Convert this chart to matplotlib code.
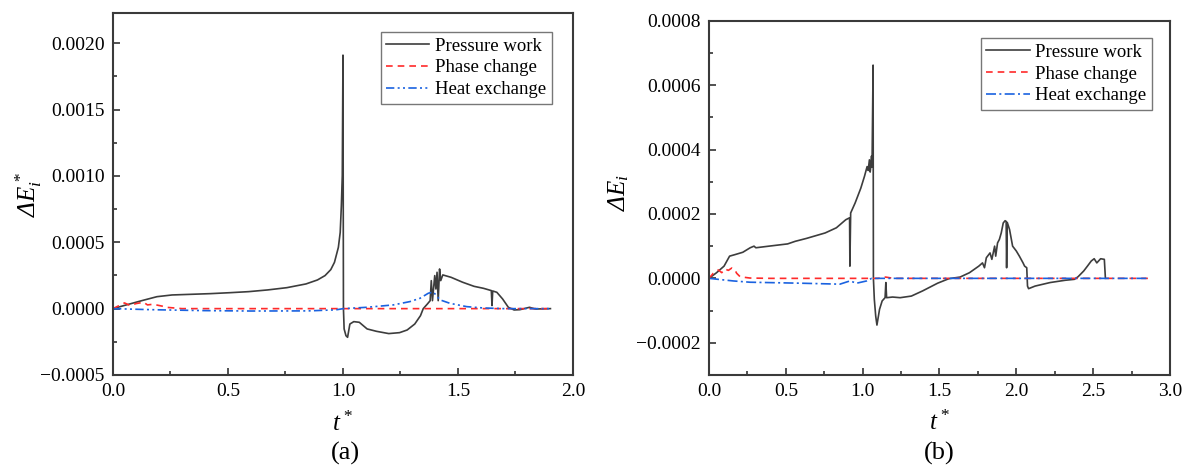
import matplotlib
matplotlib.use("Agg")
import matplotlib.pyplot as plt
from matplotlib.ticker import MultipleLocator, FuncFormatter

plt.rcParams["font.family"] = ["Liberation Serif", "DejaVu Serif"]
plt.rcParams["mathtext.fontset"] = "custom"
plt.rcParams["mathtext.rm"] = "Liberation Serif:italic"
plt.rcParams["mathtext.it"] = "Liberation Serif:italic"

# ---- (a) ----
t_pw_a = [0.0, 0.058, 0.125, 0.191, 0.257, 0.341, 0.424, 0.507, 0.590, 0.673,
          0.756, 0.839, 0.889, 0.922, 0.947, 0.963, 0.980, 0.988, 0.993, 0.997,
          1.000, 1.002, 1.005, 1.013, 1.020, 1.030, 1.047, 1.071, 1.105, 1.146,
          1.199, 1.246, 1.279, 1.312, 1.337, 1.349, 1.367, 1.379, 1.384, 1.389,
          1.399, 1.404, 1.409, 1.414, 1.420, 1.425, 1.434, 1.470, 1.520, 1.570,
          1.611, 1.645, 1.648, 1.651, 1.669, 1.694, 1.719, 1.744, 1.769, 1.811,
          1.836, 1.902]
pw_a = [0.0, 0.000028, 0.00006, 0.00009, 0.000103, 0.000108, 0.000113, 0.00012,
        0.000128, 0.000141, 0.000158, 0.000186, 0.000216, 0.000249, 0.000294,
        0.000349, 0.000462, 0.000575, 0.000776, 0.001003, 0.00191, 0.0,
        -0.000153, -0.000204, -0.000216, -0.000116, -0.000098, -0.000103,
        -0.000153, -0.000171, -0.000188, -0.000181, -0.000161, -0.000116,
        -0.000053, 0.0, 0.000035, 0.00006, 0.000211, 0.00006, 0.000249,
        0.000148, 0.000274, 0.00006, 0.000299, 0.000211, 0.000254, 0.000236,
        0.000199, 0.000168, 0.000153, 0.000136, 0.000023, 0.000133, 0.000123,
        0.000073, 0.00001, -0.00001, -0.000008, 0.00001, -0.000003, 0.0]

t_pc_a = [0.0, 0.050, 0.075, 0.100, 0.133, 0.150, 0.174, 0.216, 0.232, 0.30, 1.902]
pc_a = [0.0, 0.000043, 0.000023, 0.000038, 0.000048, 0.000028, 0.000033,
        0.000018, 0.00001, 0.0, 0.0]

t_he_a = [0.0, 0.17, 0.40, 0.60, 0.85, 0.97, 1.001, 1.103, 1.219, 1.291, 1.335,
          1.371, 1.393, 1.422, 1.465, 1.538, 1.61, 1.70, 1.902]
he_a = [0.0, -0.000008, -0.000015, -0.000018, -0.000017, -0.000009, 0.0,
        0.00001, 0.000028, 0.000053, 0.000078, 0.000116, 0.000125, 0.000066,
        0.00004, 0.000015, 0.000005, 0.0, 0.0]

# ---- (b) ----
t_pw_b = [0.0, 0.049, 0.098, 0.134, 0.171, 0.220, 0.268, 0.293, 0.305, 0.39,
          0.512, 0.561, 0.634, 0.756, 0.829, 0.890, 0.915, 0.917, 0.922, 0.951,
          0.988, 1.012, 1.029, 1.036, 1.044, 1.049, 1.054, 1.058, 1.061, 1.068,
          1.070, 1.076, 1.085, 1.093, 1.110, 1.127, 1.146, 1.151, 1.156, 1.195,
          1.244, 1.317, 1.390, 1.488, 1.561, 1.634, 1.695, 1.756, 1.780, 1.793,
          1.805, 1.829, 1.841, 1.859, 1.866, 1.878, 1.890, 1.902, 1.915, 1.927,
          1.934, 1.937, 1.941, 1.956, 1.976, 2.000, 2.020, 2.044, 2.054, 2.068,
          2.073, 2.080, 2.122, 2.220, 2.317, 2.378, 2.402, 2.439, 2.463, 2.488,
          2.507, 2.524, 2.549, 2.573, 2.580]
pw_b = [0.0, 0.0000175, 0.000038, 0.000069, 0.000074, 0.000081, 0.000095, 0.0001,
        0.000095, 0.0001, 0.000107, 0.000115, 0.000124, 0.000141, 0.000157,
        0.000182, 0.000188, 0.000038, 0.000203, 0.000234, 0.00028, 0.000317,
        0.000347, 0.000335, 0.000368, 0.00033, 0.000353, 0.00038, 0.000345,
        0.000662, 0.0, -0.000065, -0.000117, -0.000145, -0.000096, -0.00007,
        -0.00006, -0.000013, -0.00006, -0.000058, -0.00006, -0.000055,
        -0.000039, -0.000015, -0.000001, 0.000004, 0.0000175, 0.000038,
        0.000048, 0.000033, 0.000064, 0.000079, 0.000059, 0.0001, 0.000069,
        0.00011, 0.000121, 0.000141, 0.000172, 0.000179, 0.000177, 0.000033,
        0.000174, 0.000152, 0.0001, 0.000085, 0.000069, 0.000048, 0.000038,
        0.000033, -0.000024, -0.000032, -0.000024, -0.000013, -0.000006,
        -0.000003, 0.000005, 0.000023, 0.000038, 0.000054, 0.000061, 0.000048,
        0.000061, 0.000059, 0.0]

t_pc_b = [0.0, 0.028, 0.061, 0.083, 0.104, 0.126, 0.148, 0.169, 0.180, 0.202,
          0.234, 0.267, 0.40, 1.10, 1.15, 1.20, 2.866]
pc_b = [0.0, 0.0000158, 0.000026, 0.0000177, 0.000029, 0.0000248, 0.000032,
        0.000026, 0.0000158, 0.0000053, 0.000003, 0.000001, 0.0, 0.0,
        0.000004, 0.0, 0.0]

t_he_b = [0.0, 0.158, 0.267, 0.592, 0.852, 0.917, 0.961, 1.026, 1.058, 2.866]
he_b = [0.0, -0.000008, -0.000012, -0.000015, -0.000018, -0.000008, -0.000015,
        -0.000008, 0.0, 0.0]

labels = ["Pressure work", "Phase change", "Heat exchange"]

black = "#3d3d3d"
red = "#ff2a2a"
blue = "#1a62e0"


def fmt(decimals):
    # proper minus sign for negative tick values
    return FuncFormatter(lambda v, pos: f"{v:.{decimals}f}".replace("-", "\u2212"))


fig = plt.figure(figsize=(11.88, 4.66), dpi=100)
ax1 = fig.add_axes([0.0951, 0.1953, 0.3872, 0.7775])
ax2 = fig.add_axes([0.5968, 0.1953, 0.3880, 0.7603])

ax1.plot(t_pw_a, pw_a, color=black, lw=1.2, label=labels[0])
ax1.plot(t_pc_a, pc_a, color=red, lw=1.2, ls=(0, (4, 3)), label=labels[1])
ax1.plot(t_he_a, he_a, color=blue, lw=1.2, ls=(0, (5, 2, 1.2, 2, 1.2, 2)), label=labels[2])

ax2.plot(t_pw_b, pw_b, color=black, lw=1.2, label=labels[0])
ax2.plot(t_pc_b, pc_b, color=red, lw=1.2, ls=(0, (4, 3)), label=labels[1])
ax2.plot(t_he_b, he_b, color=blue, lw=1.2, ls=(0, (6, 2, 1.2, 2)), label=labels[2])

ax1.set_xlim(0, 2.0)
ax1.set_ylim(-0.0005, 0.00223)
ax1.xaxis.set_major_locator(MultipleLocator(0.5))
ax1.xaxis.set_minor_locator(MultipleLocator(0.25))
ax1.yaxis.set_major_locator(MultipleLocator(0.0005))
ax1.yaxis.set_minor_locator(MultipleLocator(0.00025))

ax2.set_xlim(0, 3.0)
ax2.set_ylim(-0.0003, 0.0008)
ax2.xaxis.set_major_locator(MultipleLocator(0.5))
ax2.xaxis.set_minor_locator(MultipleLocator(0.25))
ax2.yaxis.set_major_locator(MultipleLocator(0.0002))
ax2.yaxis.set_minor_locator(MultipleLocator(0.0001))

for ax in (ax1, ax2):
    ax.xaxis.set_major_formatter(fmt(1))
    ax.yaxis.set_major_formatter(fmt(4))
    ax.tick_params(which="both", direction="in", top=False, right=False,
                   width=1.2, colors="#333333", labelcolor="black", labelsize=14)
    ax.tick_params(which="major", length=5, pad=6)
    ax.tick_params(which="minor", length=3)
    for sp in ax.spines.values():
        sp.set_linewidth(1.5)
        sp.set_color("#3a3a3a")
    leg = ax.legend(loc="upper right", fontsize=13.5, frameon=True, fancybox=False,
                    edgecolor="#555555", handlelength=2.3, handletextpad=0.3,
                    labelspacing=0.25, borderpad=0.3, borderaxespad=0)
    leg.get_frame().set_linewidth(1.0)
    ax.text(0.5, -0.135, "$t^*$", transform=ax.transAxes, ha="center",
            va="center", fontsize=18)

ax1.get_legend().set_bbox_to_anchor((0.954, 0.947))
ax2.get_legend().set_bbox_to_anchor((0.961, 0.951))

ax1.set_ylabel(r"$\Delta E_i^*$", fontsize=18)
ax1.yaxis.set_label_coords(-0.15, 0.5)
ax2.set_ylabel(r"$\Delta E_i$", fontsize=18)
ax2.yaxis.set_label_coords(-0.17, 0.514)

fig.text(345 / 1188, 1 - 453 / 466, "(a)", ha="center", va="center", fontsize=19)
fig.text(939 / 1188, 1 - 453 / 466, "(b)", ha="center", va="center", fontsize=19)

fig.savefig("out.png", dpi=100)
